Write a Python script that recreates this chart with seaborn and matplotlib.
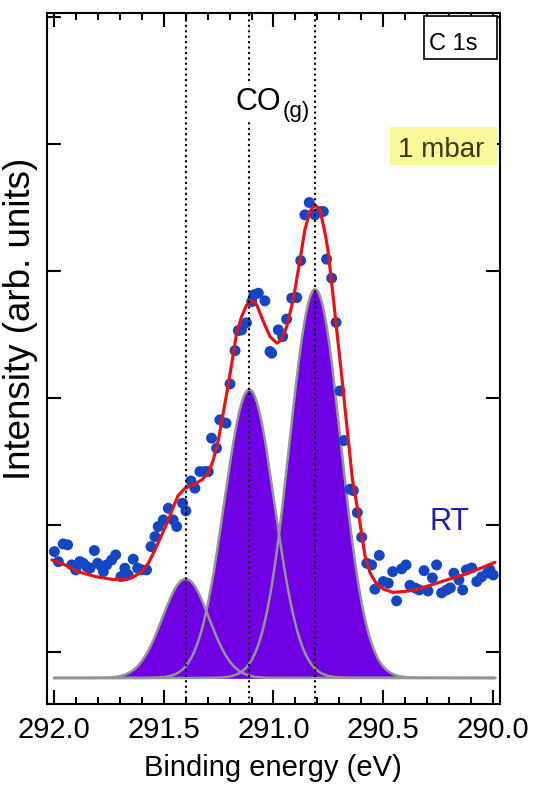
import numpy as np
import pandas as pd
import seaborn as sns
import matplotlib
matplotlib.use("Agg")
import matplotlib.pyplot as plt
from matplotlib.ticker import MultipleLocator
from matplotlib.patches import Rectangle

# Espectro XPS C 1s a 1 mbar de CO (RT)

# Puntos medidos (azules)
energia = [291.998, 291.980, 291.958, 291.938, 291.919, 291.901, 291.882, 291.867, 291.851, 291.836,
           291.816, 291.801, 291.783, 291.775, 291.760, 291.737, 291.719, 291.695, 291.677, 291.662,
           291.639, 291.619, 291.600, 291.578, 291.558, 291.540, 291.525, 291.502, 291.479, 291.457,
           291.441, 291.414, 291.399, 291.376, 291.358, 291.335, 291.312, 291.297, 291.282, 291.259,
           291.244, 291.216, 291.198, 291.175, 291.160, 291.145, 291.123, 291.099, 291.089, 291.069,
           291.039, 291.016, 291.008, 290.978, 290.958, 290.940, 290.917, 290.894, 290.876, 290.857,
           290.837, 290.811, 290.788, 290.773, 290.758, 290.735, 290.715, 290.697, 290.679, 290.651,
           290.636, 290.618, 290.598, 290.575, 290.553, 290.538, 290.518, 290.500, 290.477, 290.457,
           290.439, 290.416, 290.396, 290.378, 290.353, 290.336, 290.314, 290.296, 290.276, 290.257,
           290.234, 290.211, 290.194, 290.178, 290.155, 290.138, 290.121, 290.097, 290.074, 290.052,
           290.025, 290.014, 289.999]
intensidad = [1.790, 1.711, 1.850, 1.843, 1.685, 1.646, 1.711, 1.698, 1.672, 1.659,
              1.798, 1.698, 1.672, 1.632, 1.685, 1.724, 1.764, 1.593, 1.659, 1.606,
              1.730, 1.659, 1.646, 1.646, 1.829, 1.908, 1.987, 2.039, 2.131, 2.039,
              1.987, 2.171, 2.110, 2.346, 2.289, 2.420, 2.420, 2.420, 2.683, 2.604,
              2.827, 2.801, 3.110, 3.372, 3.530, 3.535, 3.591, 3.758, 3.811, 3.824,
              3.764, 3.365, 3.352, 3.535, 3.483, 3.620, 3.785, 3.790, 4.081, 4.441,
              4.538, 4.441, 4.467, 4.467, 4.092, 3.943, 3.594, 3.055, 2.664, 2.281,
              2.270, 2.097, 1.903, 1.698, 1.685, 1.494, 1.760, 1.554, 1.541, 1.632,
              1.402, 1.654, 1.685, 1.524, 1.502, 1.488, 1.640, 1.480, 1.583, 1.685,
              1.465, 1.488, 1.504, 1.620, 1.567, 1.488, 1.646, 1.661, 1.554, 1.591,
              1.622, 1.646, 1.606]

# Curva de ajuste (roja)
ajuste_e = [292.009, 291.950, 291.891, 291.813, 291.737, 291.677, 291.639, 291.600, 291.570, 291.540,
            291.509, 291.479, 291.456, 291.435, 291.403, 291.365, 291.327, 291.297, 291.274, 291.251,
            291.229, 291.210, 291.190, 291.168, 291.145, 291.122, 291.099, 291.077, 291.046, 291.016,
            290.985, 290.963, 290.940, 290.910, 290.879, 290.857, 290.834, 290.811, 290.788, 290.765,
            290.752, 290.738, 290.724, 290.708, 290.692, 290.677, 290.661, 290.640, 290.608, 290.583,
            290.560, 290.533, 290.501, 290.456, 290.401, 290.355, 290.287, 290.210, 290.137, 290.059,
            289.991]
ajuste_i = [1.724, 1.685, 1.632, 1.594, 1.572, 1.567, 1.588, 1.632, 1.698, 1.803,
            1.921, 2.039, 2.142, 2.228, 2.289, 2.315, 2.354, 2.407, 2.512, 2.669,
            2.880, 3.063, 3.273, 3.509, 3.640, 3.732, 3.766, 3.736, 3.601, 3.483,
            3.431, 3.457, 3.561, 3.772, 4.087, 4.323, 4.467, 4.520, 4.480, 4.297,
            4.165, 3.953, 3.732, 3.472, 3.220, 2.969, 2.701, 2.354, 2.039, 1.756,
            1.622, 1.543, 1.496, 1.469, 1.476, 1.488, 1.524, 1.567, 1.606, 1.657,
            1.705]

# Componentes gaussianas (centro, altura, FWHM) y linea base
centros = [291.40, 291.11, 290.81]
alturas = [0.78, 2.27, 3.06]
anchos = [0.25, 0.27, 0.275]
linea_base = 0.795

# Lineas punteadas
posiciones = [291.40, 291.11, 290.81]

sns.set_style("ticks")
plt.rcParams['font.family'] = ['Liberation Sans', 'DejaVu Sans']
plt.rcParams['text.color'] = 'black'
plt.rcParams['axes.labelcolor'] = 'black'
plt.rcParams['xtick.color'] = 'black'
plt.rcParams['ytick.color'] = 'black'

fig = plt.figure(figsize=(5.35, 7.88), dpi=100)
ax = fig.add_axes([0.0873, 0.1066, 0.8473, 0.8769])

#----------------------------------------------------------------
# 1. Componentes rellenas
malla = np.linspace(292.0, 289.99, 600)
curvas = []
for c, h, w in zip(centros, alturas, anchos):
    g = linea_base + h * np.exp(-4 * np.log(2) * (malla - c) ** 2 / w ** 2)
    curvas.append(g)
    ax.fill_between(malla, linea_base, g, color='#7000E4', lw=0, zorder=1)
for g in curvas:
    sns.lineplot(x=malla, y=g, ax=ax, color='#959595', lw=1.8, zorder=2)

#----------------------------------------------------------------
# 2. Datos y ajuste
sns.scatterplot(x=energia, y=intensidad, ax=ax, s=62, color='#1446C4',
                edgecolor='none', zorder=4)
sns.lineplot(x=ajuste_e, y=ajuste_i, ax=ax, color='#E4141B', lw=2.3, zorder=5)

for p in posiciones:
    ax.axvline(p, color='black', ls=(0, (1, 1.6)), lw=1.5, zorder=6)

#----------------------------------------------------------------
# 3. Ejes
ax.set_xlim(292.033, 289.968)
ax.set_ylim(0.59, 6.03)
ax.xaxis.set_major_locator(MultipleLocator(0.5))
ax.xaxis.set_minor_locator(MultipleLocator(0.1))
ax.yaxis.set_major_locator(MultipleLocator(1))
ax.xaxis.set_major_formatter(matplotlib.ticker.FormatStrFormatter('%.1f'))
ax.tick_params(which='both', direction='in', top=True, right=True, width=1.5,
               labelleft=False, labelsize=21, pad=9)
ax.tick_params(which='major', length=10)
ax.tick_params(which='minor', length=5)
for s in ax.spines.values():
    s.set_linewidth(1.5)
    s.set_color('black')

ax.set_xlabel('Binding energy (eV)', fontsize=21, labelpad=7)
ax.set_ylabel('Intensity (arb. units)', fontsize=26.5)
ax.yaxis.set_label_coords(-0.02, 0.557)

#----------------------------------------------------------------
# 4. Textos
ax.text(291.175, 5.268, 'CO', fontsize=22, ha='left', va='baseline', zorder=7,
        bbox=dict(facecolor='white', edgecolor='none', pad=4))
ax.text(290.957, 5.213, '(g)', fontsize=16, ha='left', va='baseline', zorder=7)

ax.add_patch(Rectangle((0.832, 0.9334), 0.1614, 0.0623, transform=ax.transAxes,
                       facecolor='white', edgecolor='black', lw=1.2, zorder=7))
ax.text(0.8437, 0.9465, 'C 1s', transform=ax.transAxes, fontsize=17,
        ha='left', va='baseline', zorder=8)

ax.add_patch(Rectangle((0.7577, 0.780), 0.2357, 0.055, transform=ax.transAxes,
                       facecolor='#F9F99A', edgecolor='none', zorder=7))
ax.text(0.775, 0.7916, '1 mbar', transform=ax.transAxes, fontsize=20,
        ha='left', va='baseline', color='#3A3A12', zorder=8)

ax.text(290.287, 1.961, 'RT', fontsize=22, ha='left', va='baseline', color='#1C1CB0', zorder=7)

plt.savefig('out.png', dpi=100)
